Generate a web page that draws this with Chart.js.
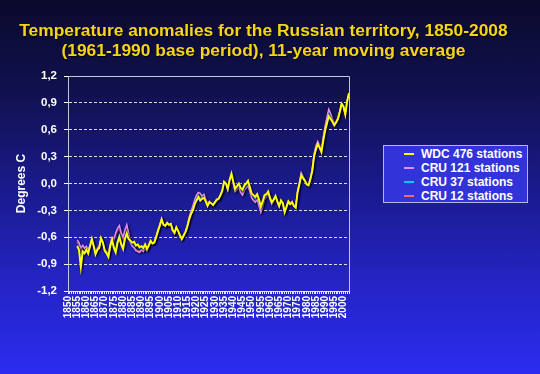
<!DOCTYPE html>
<html>
<head>
<meta charset="utf-8">
<script src="https://cdn.jsdelivr.net/npm/chart.js@4/dist/chart.umd.min.js"></script>
<style>
  html, body { margin: 0; padding: 0; }
  #wrap {
    position: relative;
    width: 540px;
    height: 374px;
    background: linear-gradient(to bottom, #0a0a2c 0%, #111150 25%, #1a1a8c 50%, #2424c4 75%, #2c2cf0 100%);
    font-family: "Liberation Sans", Arial, sans-serif;
  }
  #title {
    position: absolute;
    left: 0;
    top: 20px;
    width: 527px;
    text-align: center;
    color: #f6d418;
    font-weight: bold;
    font-size: 17.4px;
    line-height: 20px;
    text-shadow: 1px 1px 1px rgba(0,0,0,0.8);
  }
  #legend {
    position: absolute;
    left: 383px;
    top: 145px;
    width: 143px;
    height: 55px;
    border: 1px solid #b8b8d4;
    background: #3333da;
    padding-top: 1px;
    box-sizing: content-box;
  }
  .item { height: 14px; position: relative; color: #fff; font-weight: bold; font-size: 12px; line-height: 14px; }
  .item span.mark { position: absolute; left: 20px; top: 6px; width: 10px; height: 2px; }
  .item span.txt { position: absolute; left: 37px; top: 0; white-space: nowrap; }
</style>
</head>
<body>
<div id="wrap">
  <canvas id="chart" width="540" height="374"></canvas>
  <div id="title">Temperature anomalies for the Russian territory, 1850-2008<br>(1961-1990 base period), 11-year moving average</div>
  <div id="legend"></div>
</div>
<script>
const firstYear = 1850;
const lastYear = 2003;
const firstDataYear = 1855;

const seriesNames = ["WDC 476 stations", "CRU 121 stations", "CRU 37 stations", "CRU 12 stations"];
const seriesColors = ["#ffff10", "#e08cf4", "#10c8ff", "#f06a6a"];

const yTicks = [-1.2, -0.9, -0.6, -0.3, 0.0, 0.3, 0.6, 0.9, 1.2];

// 1855 .. 2003
const wdc476 = [
  -0.70, -0.74, -0.93, -0.76, -0.78,
  -0.74, -0.78, -0.70, -0.62, -0.70, -0.79, -0.74, -0.72, -0.61, -0.66,
  -0.75, -0.78, -0.82, -0.70, -0.63, -0.72, -0.77, -0.66, -0.60, -0.68,
  -0.73, -0.62, -0.56, -0.62, -0.64, -0.66, -0.65, -0.69, -0.68, -0.71,
  -0.70, -0.72, -0.68, -0.73, -0.69, -0.64, -0.67, -0.66, -0.60, -0.53,
  -0.47, -0.40, -0.46, -0.47, -0.44, -0.46, -0.45, -0.52, -0.55, -0.49,
  -0.53, -0.58, -0.62, -0.58, -0.54, -0.48, -0.40, -0.34, -0.30, -0.23,
  -0.19, -0.15, -0.19, -0.17, -0.16, -0.20, -0.25, -0.21, -0.22, -0.24,
  -0.21, -0.18, -0.17, -0.13, -0.08, 0.02, 0.00, -0.06, 0.04, 0.11,
  0.02, -0.06, -0.03, 0.00, -0.05, -0.07, -0.02, 0.00, 0.03, -0.04,
  -0.11, -0.13, -0.15, -0.12, -0.18, -0.26, -0.20, -0.13, -0.12, -0.09,
  -0.16, -0.21, -0.18, -0.14, -0.20, -0.25, -0.19, -0.22, -0.32, -0.26,
  -0.20, -0.23, -0.21, -0.25, -0.27, -0.10, -0.01, 0.09, 0.06, 0.03,
  -0.01, -0.02, 0.05, 0.14, 0.30, 0.38, 0.44, 0.40, 0.35, 0.48,
  0.59, 0.67, 0.75, 0.72, 0.69, 0.65, 0.68, 0.72, 0.80, 0.89,
  0.86, 0.77, 0.92, 1.01
];

const cru121 = [
  -0.63, -0.66, -0.72, -0.69, -0.72,
  -0.70, -0.74, -0.69, -0.63, -0.68, -0.76, -0.72, -0.70, -0.62, -0.66,
  -0.73, -0.76, -0.79, -0.68, -0.60, -0.62, -0.55, -0.50, -0.47, -0.55,
  -0.60, -0.52, -0.46, -0.55, -0.66, -0.70, -0.72, -0.75, -0.76, -0.77,
  -0.74, -0.76, -0.72, -0.75, -0.70, -0.65, -0.67, -0.65, -0.59, -0.52,
  -0.46, -0.40, -0.46, -0.48, -0.45, -0.47, -0.46, -0.53, -0.56, -0.50,
  -0.53, -0.58, -0.62, -0.58, -0.54, -0.47, -0.38, -0.31, -0.25, -0.18,
  -0.13, -0.10, -0.11, -0.14, -0.12, -0.17, -0.22, -0.20, -0.22, -0.24,
  -0.21, -0.19, -0.18, -0.14, -0.09, 0.01, -0.01, -0.07, 0.02, 0.09,
  0.00, -0.09, -0.07, -0.04, -0.10, -0.13, -0.08, -0.05, -0.02, -0.09,
  -0.16, -0.19, -0.21, -0.18, -0.25, -0.32, -0.26, -0.18, -0.15, -0.11,
  -0.18, -0.23, -0.19, -0.15, -0.21, -0.26, -0.20, -0.23, -0.31, -0.26,
  -0.20, -0.22, -0.20, -0.24, -0.26, -0.09, 0.01, 0.12, 0.08, 0.04,
  0.00, -0.01, 0.06, 0.16, 0.33, 0.42, 0.47, 0.43, 0.37, 0.52,
  0.64, 0.74, 0.83, 0.78, 0.72, 0.67, 0.69, 0.73, 0.80, 0.88,
  0.85, 0.78, 0.91, 0.99
];

const cru37 = [
  -0.69, -0.73, -0.90, -0.75, -0.77,
  -0.73, -0.77, -0.70, -0.62, -0.70, -0.78, -0.74, -0.72, -0.61, -0.66,
  -0.75, -0.78, -0.81, -0.70, -0.63, -0.70, -0.74, -0.64, -0.58, -0.66,
  -0.71, -0.60, -0.54, -0.60, -0.65, -0.67, -0.67, -0.70, -0.70, -0.72,
  -0.71, -0.73, -0.69, -0.73, -0.69, -0.64, -0.67, -0.66, -0.60, -0.53,
  -0.47, -0.40, -0.46, -0.47, -0.44, -0.46, -0.45, -0.52, -0.55, -0.49,
  -0.53, -0.58, -0.62, -0.58, -0.54, -0.48, -0.39, -0.33, -0.28, -0.21,
  -0.17, -0.13, -0.16, -0.16, -0.15, -0.19, -0.24, -0.21, -0.22, -0.24,
  -0.21, -0.18, -0.17, -0.13, -0.08, 0.02, 0.00, -0.06, 0.03, 0.10,
  0.01, -0.07, -0.04, -0.01, -0.06, -0.09, -0.04, -0.02, 0.01, -0.06,
  -0.13, -0.15, -0.17, -0.14, -0.20, -0.28, -0.22, -0.15, -0.13, -0.10,
  -0.17, -0.22, -0.18, -0.14, -0.20, -0.25, -0.19, -0.22, -0.32, -0.26,
  -0.20, -0.23, -0.21, -0.25, -0.27, -0.10, -0.01, 0.10, 0.07, 0.03,
  -0.01, -0.02, 0.05, 0.15, 0.31, 0.39, 0.45, 0.41, 0.36, 0.49,
  0.61, 0.70, 0.78, 0.74, 0.70, 0.66, 0.68, 0.72, 0.80, 0.89,
  0.86, 0.77, 0.92, 1.00
];

const cru12 = [
  -0.65, -0.68, -0.76, -0.70, -0.73,
  -0.71, -0.75, -0.69, -0.63, -0.69, -0.77, -0.73, -0.71, -0.62, -0.66,
  -0.74, -0.77, -0.80, -0.69, -0.61, -0.64, -0.58, -0.53, -0.50, -0.57,
  -0.62, -0.54, -0.48, -0.57, -0.66, -0.69, -0.71, -0.74, -0.75, -0.76,
  -0.73, -0.75, -0.71, -0.74, -0.70, -0.65, -0.67, -0.65, -0.59, -0.52,
  -0.46, -0.40, -0.46, -0.48, -0.45, -0.47, -0.46, -0.53, -0.56, -0.50,
  -0.53, -0.58, -0.62, -0.58, -0.54, -0.47, -0.38, -0.32, -0.26, -0.19,
  -0.14, -0.11, -0.12, -0.15, -0.13, -0.18, -0.23, -0.20, -0.22, -0.24,
  -0.21, -0.19, -0.18, -0.14, -0.09, 0.01, -0.01, -0.07, 0.02, 0.09,
  0.00, -0.08, -0.06, -0.03, -0.09, -0.12, -0.07, -0.04, -0.01, -0.08,
  -0.15, -0.18, -0.20, -0.17, -0.24, -0.31, -0.25, -0.17, -0.14, -0.10,
  -0.17, -0.22, -0.19, -0.15, -0.21, -0.26, -0.20, -0.23, -0.31, -0.26,
  -0.20, -0.22, -0.20, -0.24, -0.26, -0.09, 0.01, 0.11, 0.08, 0.04,
  0.00, -0.01, 0.06, 0.15, 0.32, 0.41, 0.46, 0.42, 0.37, 0.51,
  0.63, 0.72, 0.81, 0.77, 0.71, 0.67, 0.69, 0.73, 0.80, 0.88,
  0.85, 0.78, 0.91, 0.99
];

const years = [];
for (let y = firstYear; y <= lastYear; y++) years.push(String(y));

const lead = Array(firstDataYear - firstYear).fill(null);
const seriesValues = [wdc476, cru121, cru37, cru12];

const fmt = (v) => (Math.abs(v) < 1e-9 ? "0,0" : v.toFixed(1).replace(".", ","));

// legend as html
document.getElementById("legend").innerHTML = seriesNames
  .map((n, i) => `<div class="item"><span class="mark" style="background:${seriesColors[i]}"></span><span class="txt">${n}</span></div>`)
  .join("");

const lineShadow = {
  id: "lineShadow",
  beforeDatasetDraw(chart) {
    const ctx = chart.ctx;
    ctx.save();
    ctx.shadowColor = "rgba(0,0,20,0.85)";
    ctx.shadowBlur = 2;
    ctx.shadowOffsetX = 1;
    ctx.shadowOffsetY = 1;
  },
  afterDatasetDraw(chart) {
    chart.ctx.restore();
  },
};

const frame = {
  id: "frame",
  afterDraw(chart) {
    const { ctx, chartArea: a } = chart;
    ctx.save();
    ctx.strokeStyle = "#c4c4dc";
    ctx.lineWidth = 1;
    ctx.beginPath();
    ctx.moveTo(a.left, a.top + 0.5);
    ctx.lineTo(a.right + 0.5, a.top + 0.5);
    ctx.lineTo(a.right + 0.5, a.bottom);
    ctx.stroke();
    ctx.restore();
  },
};

const ctx = document.getElementById("chart").getContext("2d");

const chart = new Chart(ctx, {
  type: "line",
  data: {
    labels: years,
    datasets: seriesNames.map((name, i) => ({
      label: name,
      data: lead.concat(seriesValues[i]),
      borderColor: seriesColors[i],
      backgroundColor: seriesColors[i],
      borderWidth: i === 0 ? 2 : 1.5,
      pointRadius: 0,
      tension: 0,
      fill: false,
      spanGaps: false,
    })),
  },
  options: {
    responsive: false,
    animation: false,
    layout: { padding: { top: 76, right: 191, bottom: 0, left: 0 } },
    plugins: {
      legend: { display: false },
      title: { display: false },
      tooltip: { enabled: false },
    },
    scales: {
      x: {
        offset: false,
        afterFit: (s) => { s.height = 83; },
        grid: { drawOnChartArea: false, drawTicks: true, tickLength: 3, tickColor: "#e8e8f4" },
        border: { display: true, color: "#e8e8f4", width: 1 },
        ticks: {
          autoSkip: false,
          minRotation: 90,
          maxRotation: 90,
          padding: 2,
          color: "#ffffff",
          font: { family: "'Liberation Sans', Arial, sans-serif", size: 10, weight: "bold" },
          callback: (v, i) => (Number(years[i]) % 5 === 0 ? years[i] : ""),
        },
      },
      y: {
        min: -1.2,
        max: 1.2,
        afterFit: (s) => { s.width = 68; },
        afterBuildTicks: (s) => { s.ticks = yTicks.map((v) => ({ value: v })); },
        grid: { color: "rgba(255,255,255,0.85)", lineWidth: 1, tickLength: 4, tickColor: "#ffffff" },
        border: { display: true, color: "#c4c4dc", width: 1, dash: [3, 2] },
        ticks: {
          padding: 7,
          color: "#ffffff",
          font: { family: "'Liberation Sans', Arial, sans-serif", size: 11.5, weight: "bold" },
          callback: (v) => fmt(v),
        },
        title: {
          display: true,
          text: "Degrees C",
          color: "#ffffff",
          padding: { top: 14, bottom: 0 },
          font: { family: "'Liberation Sans', Arial, sans-serif", size: 12, weight: "bold" },
        },
      },
    },
  },
  plugins: [lineShadow, frame],
});
</script>
</body>
</html>
